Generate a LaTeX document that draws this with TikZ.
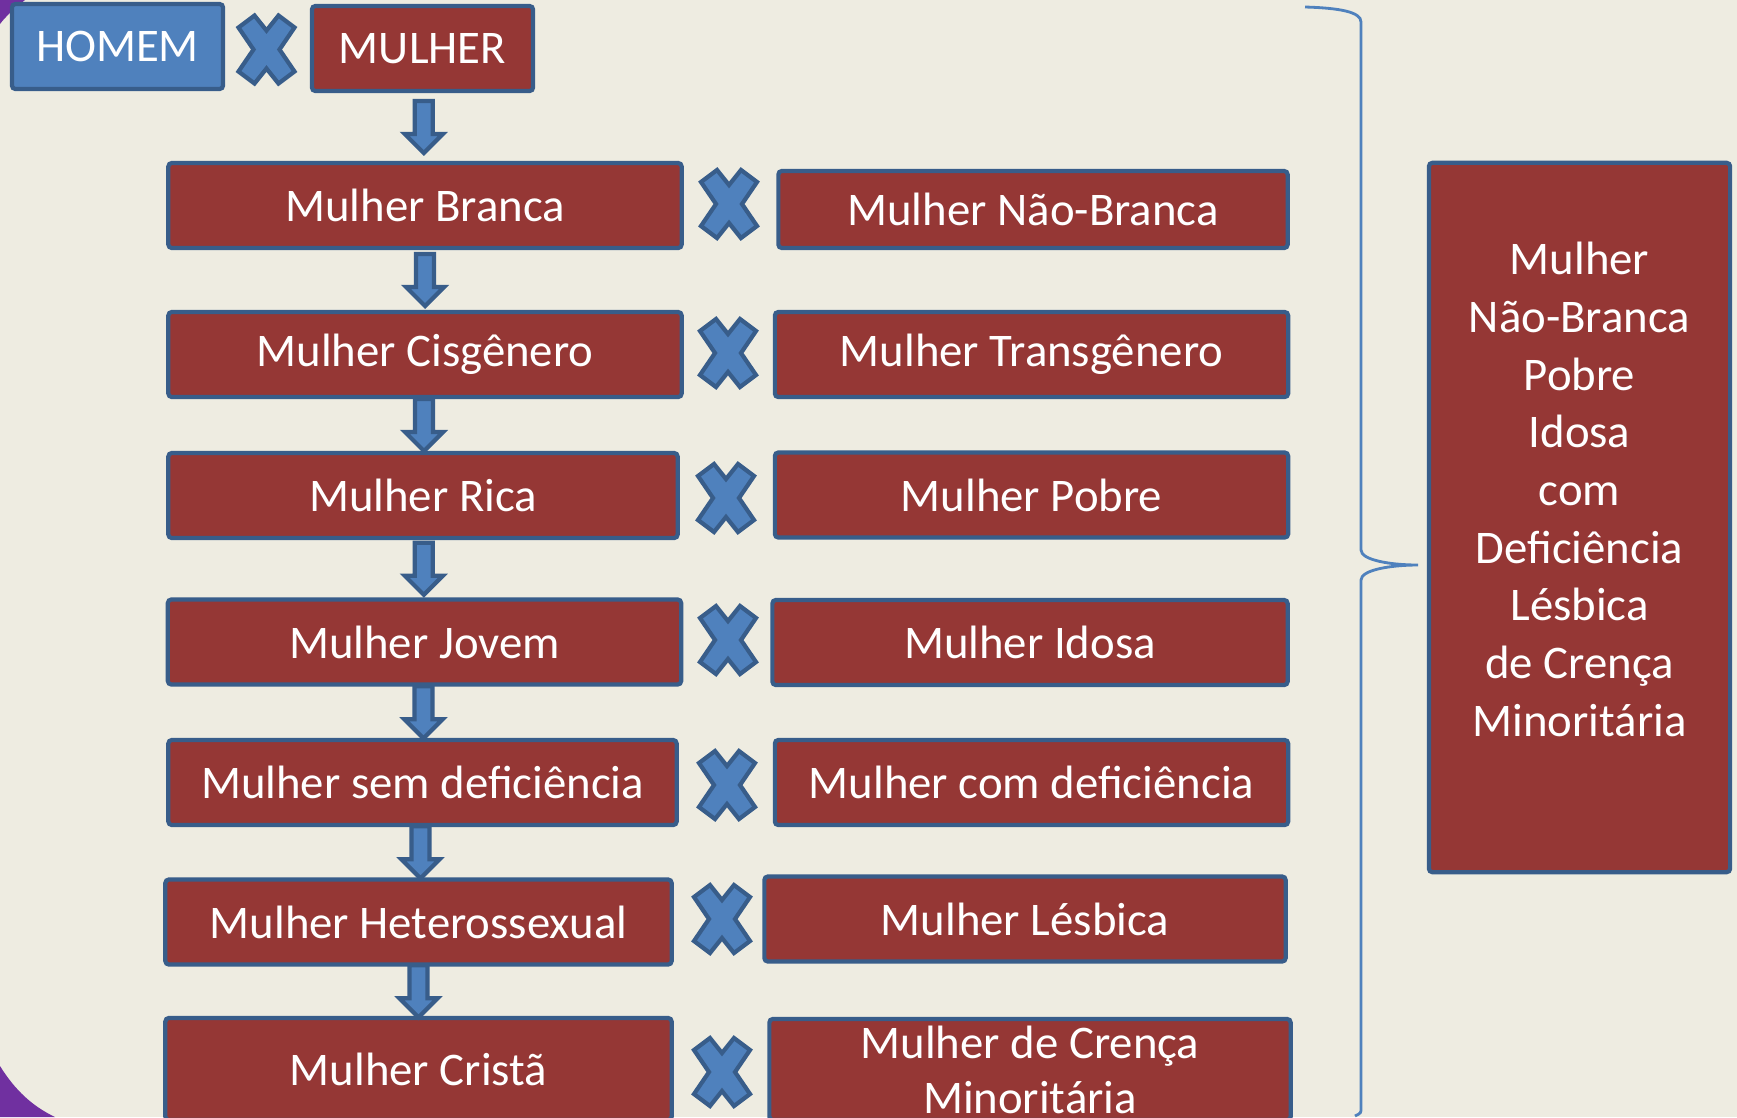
\documentclass[tikz,border=0pt]{standalone}
\usepackage{fontspec}
\setmainfont{Carlito}
\usetikzlibrary{positioning}
\usetikzlibrary{calc}

\definecolor{bgbeige}{HTML}{EEECE1}
\definecolor{boxred}{HTML}{953735}
\definecolor{edgeblue}{HTML}{385D8A}
\definecolor{fillblue}{HTML}{4F81BD}
\definecolor{cornerpurple}{HTML}{7030A0}

\tikzset{
    box/.style={rectangle, draw=edgeblue, fill=boxred, line width=1.2pt,
        rounded corners=1pt, text=white, inner sep=0pt,
        font=\fontsize{13.3}{16}\selectfont, minimum height=0.85cm},
    lbox/.style={box, minimum width=5.13cm},
    rbox/.style={box, minimum width=5.13cm},
    hbox/.style={box, fill=fillblue},
    cross/.pic={
        \draw[edgeblue, fill=fillblue, line width=1.2pt]
            (-28,-22) -- (-12,-34) -- (0,-19) -- (12,-34) -- (28,-22) -- (13,0)
            -- (28,22) -- (12,34) -- (0,19) -- (-12,34) -- (-28,22) -- (-13,0) -- cycle;
    },
    downarr/.pic={
        \draw[edgeblue, fill=fillblue, line width=1.2pt]
            (-9,-26) -- (9,-26) -- (9,7) -- (19,7) -- (0,26) -- (-19,7) -- (-9,7) -- cycle;
    }
}

\begin{document}
\begin{tikzpicture}[x=0.01cm, y=-0.01cm]
    \useasboundingbox (0,0) rectangle (1737,1117);
    \clip (0,0) rectangle (1737,1117);
    \fill[bgbeige] (0,0) rectangle (1737,1117);
    \fill[cornerpurple] (0,0) -- (25,0) .. controls (15,8) and (6,16) .. (0,24) -- cycle;
    \fill[cornerpurple] (0,1066) .. controls (15,1090) and (32,1106) .. (55,1117) -- (0,1117) -- cycle;

    % top row
    \path
        node (homem)  at (117.5,46.5) [hbox, minimum width=2.11cm] { HOMEM }
        node (mulher) at (422.5,48.5) [box, minimum width=2.21cm] { MULHER };
    \path (266.5,49.5) pic {cross};

    % left column
    \path
        node (l1) at (425,205.5)  [lbox] { Mulher Branca }
        node (l2) at (425,354.5)  [lbox] { Mulher Cisgênero }
        node (l3) at (423,495.5)  [lbox, minimum width=5.09cm] { Mulher Rica }
        node (l4) at (424.5,642)  [lbox] { Mulher Jovem }
        node (l5) at (422.5,782.5) [lbox, minimum width=5.08cm] { Mulher sem deficiência }
        node (l6) at (418.5,922)  [lbox, minimum width=5.06cm] { Mulher Heterossexual }
        node (l7) at (418.5,1069) [lbox, minimum width=5.06cm, minimum height=1.02cm] { Mulher Cristã };

    % right column
    \path
        node (r1) at (1033,209.5)  [rbox, minimum width=5.09cm, minimum height=0.77cm] { Mulher Não-Branca }
        node (r2) at (1031.5,354.5) [rbox] { Mulher Transgênero }
        node (r3) at (1031.5,495)  [rbox] { Mulher Pobre }
        node (r4) at (1030,642.5)  [rbox, minimum width=5.15cm] { Mulher Idosa }
        node (r5) at (1031.5,782.5) [rbox] { Mulher com deficiência }
        node (r6) at (1025,919)    [rbox, minimum width=5.21cm] { Mulher Lésbica }
        node (r7) at (1030,1069.5) [rbox, minimum width=5.21cm, minimum height=1.01cm,
            align=center, font=\fontsize{13.3}{15.6}\selectfont] { Mulher de Crença\\Minoritária };

    % crosses between columns
    \path (729,204) pic {cross};
    \path (728,353) pic {cross};
    \path (726,498) pic {cross};
    \path (728,640) pic {cross};
    \path (727,785) pic {cross};
    \path (722,919) pic {cross};
    \path (722,1072) pic {cross};

    % arrows down the left column
    \path ($(mulher.south)!0.5!(l1.north)$) pic {downarr};
    \path ($(l1.south)!0.5!(l2.north)$) pic {downarr};
    \path ($(l2.south)!0.5!(l3.north)$) pic {downarr};
    \path ($(l3.south)!0.5!(l4.north)$) pic {downarr};
    \path ($(l4.south)!0.5!(l5.north)$) pic {downarr};
    \path ($(l5.south)!0.5!(l6.north)$) pic {downarr};
    \path ($(l6.south)!0.5!(l7.north)$) pic {downarr};

    % summary box and brace
    \path
        node (big) at (1579.5,517.5) [box, minimum width=3.01cm, minimum height=7.09cm] {}
        node (bigtxt) at (1579.5,489.5) [align=center, text=white,
            font=\fontsize{13.3}{16.4}\selectfont]
            { Mulher\\Não-Branca\\Pobre\\Idosa\\com\\Deficiência\\Lésbica\\de Crença\\Minoritária };
    \coordinate (tip) at (1418,565);
    \draw[fillblue, line width=0.8pt]
        (1305,7) .. controls (1340,8) and (1361,12) .. (1361,22) -- (1361,550)
        .. controls (1361,560) and (1390,565) .. (tip)
        .. controls (1390,565) and (1361,570) .. (1361,580) -- (1361,1108)
        .. controls (1361,1113) .. (1355,1116);
\end{tikzpicture}
\end{document}
